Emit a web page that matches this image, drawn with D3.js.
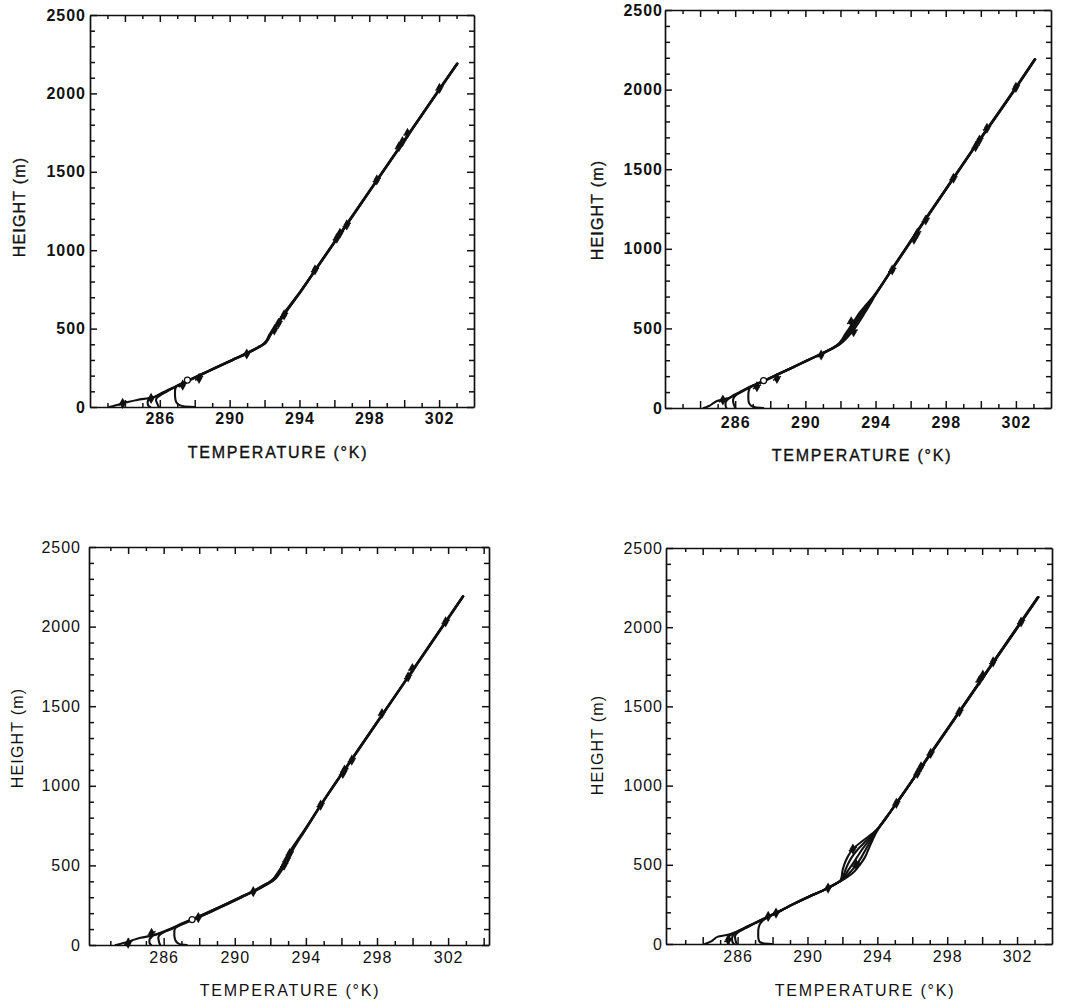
<!DOCTYPE html>
<html>
<head>
<meta charset="utf-8">
<script src="https://cdn.jsdelivr.net/npm/d3@7"></script>
<style>
body { margin: 0; background: #fff; }
text { font-family: "Liberation Sans", Arial, sans-serif; fill: #111; }
</style>
</head>
<body>
<svg id="chart" width="1068" height="1001"></svg>
<script>
// shared height levels (m) for every profile
const heights = [0, 5, 15, 30, 45, 60, 80, 100, 130, 170, 210, 250, 300, 340, 380, 400, 420, 460, 500, 550, 600, 650, 700, 900, 1200, 1600, 2000, 2190];
const xTickLabels = [286, 290, 294, 298, 302];
const yTickLabels = [0, 500, 1000, 1500, 2000, 2500];

// panel A (top left) temperature profiles, K
const panelATemps = [
  [283.1, 283.3, 283.6, 284.1, 284.7, 285.55, 285.95, 286.3, 286.88, 287.65, 288.42, 289.18, 290.15, 290.92, 291.63, 291.93, 292.1, 292.3, 292.55, 292.85, 293.15, 293.48, 293.82, 295.06, 296.92, 299.38, 301.85, 303.03],
  [288.0, 287.35, 287.08, 286.95, 286.9, 286.88, 286.87, 286.87, 286.93, 287.7, 288.47, 289.23, 290.2, 290.97, 291.68, 291.98, 292.15, 292.35, 292.6, 292.9, 293.2, 293.52, 293.85, 295.09, 296.95, 299.41, 301.88, 303.06],
  [285.45, 285.38, 285.32, 285.3, 285.35, 285.62, 286.02, 286.38, 286.9, 287.62, 288.4, 289.16, 290.13, 290.9, 291.6, 291.9, 292.08, 292.27, 292.52, 292.82, 293.12, 293.46, 293.8, 295.05, 296.9, 299.37, 301.84, 303.02],
  [285.95, 285.92, 285.88, 285.82, 285.78, 285.85, 286.1, 286.42, 286.95, 287.68, 288.45, 289.21, 290.18, 290.95, 291.66, 291.96, 292.13, 292.33, 292.58, 292.88, 293.18, 293.5, 293.84, 295.08, 296.93, 299.4, 301.87, 303.05]
];
const panelAMarkT = [302.02, 300.19, 299.9, 299.7, 298.43, 296.71, 296.32, 296.14, 294.89, 293.12, 292.8, 292.56, 290.98, 288.25, 287.31, 285.5, 283.87];
const panelAMarkZ = [2032, 1745, 1692, 1660, 1448, 1161, 1108, 1076, 874, 587, 534, 491, 338, 183, 140, 55, 23];
const panelAOpenT = [287.58];
const panelAOpenZ = [172];

// panel B (top right)
const panelBTemps = [
  [284.2, 284.35, 284.55, 284.75, 285.0, 285.55, 285.9, 286.25, 286.78, 287.6, 288.38, 289.15, 290.1, 290.88, 291.6, 291.85, 292.02, 292.25, 292.5, 292.8, 293.1, 293.48, 293.86, 295.08, 296.91, 299.38, 301.9, 303.06],
  [287.6, 287.15, 286.9, 286.8, 286.76, 286.75, 286.75, 286.76, 286.85, 287.65, 288.42, 289.2, 290.15, 290.92, 291.63, 291.9, 292.08, 292.35, 292.6, 292.9, 293.2, 293.55, 293.9, 295.1, 296.93, 299.4, 301.92, 303.08],
  [285.5, 285.48, 285.45, 285.45, 285.5, 285.65, 285.98, 286.3, 286.82, 287.62, 288.4, 289.17, 290.12, 290.9, 291.62, 291.92, 292.12, 292.42, 292.7, 293.0, 293.3, 293.62, 293.92, 295.12, 296.95, 299.42, 301.94, 303.1],
  [286.0, 285.98, 285.95, 285.9, 285.88, 285.9, 286.05, 286.35, 286.85, 287.66, 288.44, 289.21, 290.16, 290.94, 291.66, 291.96, 292.18, 292.52, 292.82, 293.12, 293.4, 293.68, 293.94, 295.13, 296.96, 299.43, 301.95, 303.11]
];
const panelBMarkT = [302.0, 300.35, 299.92, 299.7, 298.44, 296.86, 296.38, 296.19, 294.95, 292.61, 292.75, 290.9, 288.38, 287.24, 285.3];
const panelBMarkZ = [2014, 1757, 1683, 1641, 1443, 1181, 1097, 1060, 867, 542, 479, 333, 186, 134, 50];
const panelBOpenT = [287.62];
const panelBOpenZ = [172];

// panel C (bottom left)
const panelCTemps = [
  [283.3, 283.5, 283.85, 284.25, 284.7, 285.4, 285.95, 286.4, 286.95, 287.8, 288.6, 289.37, 290.32, 291.07, 291.72, 292.02, 292.22, 292.47, 292.72, 292.97, 293.17, 293.47, 293.78, 294.94, 296.77, 299.22, 301.66, 302.82],
  [287.3, 286.92, 286.76, 286.66, 286.62, 286.6, 286.6, 286.62, 287.02, 287.88, 288.67, 289.42, 290.37, 291.12, 291.77, 292.07, 292.27, 292.52, 292.77, 293.02, 293.22, 293.52, 293.82, 294.97, 296.8, 299.25, 301.69, 302.85],
  [285.3, 285.25, 285.2, 285.2, 285.25, 285.4, 285.9, 286.35, 286.92, 287.78, 288.58, 289.35, 290.3, 291.05, 291.7, 292.0, 292.2, 292.45, 292.7, 292.98, 293.22, 293.5, 293.8, 294.95, 296.78, 299.23, 301.67, 302.83],
  [285.8, 285.78, 285.75, 285.72, 285.7, 285.75, 286.0, 286.45, 287.05, 287.9, 288.7, 289.45, 290.4, 291.15, 291.8, 292.1, 292.32, 292.58, 292.85, 293.08, 293.28, 293.55, 293.84, 294.98, 296.81, 299.26, 301.7, 302.86]
];
const panelCMarkT = [301.86, 299.99, 299.75, 298.28, 296.58, 296.17, 296.08, 294.83, 293.09, 292.91, 292.78, 291.04, 287.95, 285.32, 284.0];
const panelCMarkZ = [2030, 1737, 1684, 1454, 1161, 1098, 1078, 879, 575, 534, 502, 335, 172, 73, 11];
const panelCOpenT = [287.6];
const panelCOpenZ = [160];

// panel D (bottom right)
const panelDTemps = [
  [284.13, 284.25, 284.45, 284.65, 284.85, 285.5, 286.0, 286.35, 286.92, 287.68, 288.43, 289.13, 290.08, 290.9, 291.58, 291.88, 291.95, 292.0, 292.1, 292.3, 292.6, 293.15, 293.75, 295.14, 297.01, 299.5, 302.0, 303.18],
  [287.95, 287.45, 287.25, 287.2, 287.18, 287.18, 287.18, 287.2, 287.3, 287.72, 288.47, 289.17, 290.12, 290.94, 291.62, 291.92, 292.02, 292.15, 292.3, 292.55, 292.9, 293.35, 293.8, 295.16, 297.03, 299.52, 302.02, 303.2],
  [285.5, 285.45, 285.4, 285.4, 285.45, 285.65, 286.0, 286.4, 286.95, 287.7, 288.45, 289.15, 290.1, 290.92, 291.6, 291.9, 292.08, 292.3, 292.55, 292.85, 293.15, 293.5, 293.85, 295.17, 297.04, 299.53, 302.03, 303.21],
  [285.95, 285.93, 285.9, 285.87, 285.85, 285.9, 286.1, 286.45, 286.98, 287.73, 288.48, 289.18, 290.13, 290.95, 291.63, 291.93, 292.15, 292.5, 292.8, 293.1, 293.35, 293.62, 293.88, 295.18, 297.05, 299.54, 302.04, 303.22],
  [285.8, 285.75, 285.7, 285.68, 285.7, 285.8, 286.05, 286.42, 286.97, 287.72, 288.47, 289.16, 290.11, 290.93, 291.62, 291.95, 292.25, 292.7, 293.0, 293.3, 293.5, 293.7, 293.92, 295.19, 297.06, 299.55, 302.05, 303.23]
];
const panelDMarkT = [302.23, 300.63, 300.04, 299.85, 298.7, 297.05, 296.5, 296.29, 295.09, 292.6, 292.8, 291.18, 288.2, 287.75, 285.47];
const panelDMarkZ = [2033, 1781, 1697, 1665, 1466, 1203, 1119, 1077, 888, 600, 500, 353, 195, 174, 27];
const panelDOpenT = [];
const panelDOpenZ = [];

const svg = d3.select("#chart");

const panels = [
  { temps: panelATemps, markT: panelAMarkT, markZ: panelAMarkZ, openT: panelAOpenT, openZ: panelAOpenZ,
    l: 90, t: 15, r: 474, b: 407, xDom: [282, 304], weight: "bold", heavy: true, xPad: 6, yPad: 4,
    titleX: 278, titleY: 458, ylabX: 19, ylabY: 207 },
  { temps: panelBTemps, markT: panelBMarkT, markZ: panelBMarkZ, openT: panelBOpenT, openZ: panelBOpenZ,
    l: 665, t: 10, r: 1051, b: 408, xDom: [282, 304], weight: "bold", heavy: true, xPad: 9, yPad: 2,
    titleX: 862, titleY: 461, ylabX: 597, ylabY: 210 },
  { temps: panelCTemps, markT: panelCMarkT, markZ: panelCMarkZ, openT: panelCOpenT, openZ: panelCOpenZ,
    l: 89, t: 547, r: 489, b: 945, xDom: [281.8, 304.3], weight: "normal", heavy: false, xPad: 7, yPad: 8,
    titleX: 290, titleY: 996, ylabX: 17, ylabY: 738 },
  { temps: panelDTemps, markT: panelDMarkT, markZ: panelDMarkZ, openT: panelDOpenT, openZ: panelDOpenZ,
    l: 666, t: 548, r: 1052, b: 944, xDom: [281.9, 304], weight: "normal", heavy: false, xPad: 7, yPad: 3,
    titleX: 865, titleY: 996, ylabX: 597, ylabY: 745 }
];

panels.forEach(drawPanel);

function drawPanel(p) {
  const x = d3.scaleLinear().domain(p.xDom).range([p.l, p.r]);
  const y = d3.scaleLinear().domain([0, 2500]).range([p.b, p.t]);
  const g = svg.append("g");

  const xTicks = d3.range(Math.ceil(p.xDom[0]), Math.floor(p.xDom[1]) + 1)
    .filter(v => v - p.xDom[0] > 0.3 && p.xDom[1] - v > 0.3);
  const yTicks = d3.range(0, 2501, 100);

  const bottom = g.append("g")
    .attr("transform", "translate(0," + p.b + ")")
    .call(d3.axisBottom(x).tickValues(xTicks).tickSizeInner(-5).tickSizeOuter(0)
      .tickPadding(p.xPad).tickFormat(d => xTickLabels.includes(d) ? d : ""));
  const top = g.append("g")
    .attr("transform", "translate(0," + p.t + ")")
    .call(d3.axisTop(x).tickValues(xTicks).tickSizeInner(-5).tickSizeOuter(0).tickFormat(""));
  const left = g.append("g")
    .attr("transform", "translate(" + p.l + ",0)")
    .call(d3.axisLeft(y).tickValues(yTicks).tickSizeInner(-5).tickSizeOuter(0)
      .tickPadding(p.yPad).tickFormat(d => yTickLabels.includes(d) ? d : ""));
  const right = g.append("g")
    .attr("transform", "translate(" + p.r + ",0)")
    .call(d3.axisRight(y).tickValues(yTicks).tickSizeInner(-5).tickSizeOuter(0).tickFormat(""));

  // longer ticks on even kelvins / every 500 m
  bottom.selectAll(".tick line").attr("y2", d => d % 2 === 0 ? -7 : -4);
  top.selectAll(".tick line").attr("y2", d => d % 2 === 0 ? 7 : 4);
  left.selectAll(".tick line").attr("x2", d => d % 500 === 0 ? 7 : 5);
  right.selectAll(".tick line").attr("x2", d => d % 500 === 0 ? -7 : -5);

  [bottom, top, left, right].forEach(a => {
    a.select(".domain").attr("stroke", "#111").attr("stroke-width", 1.7);
    a.selectAll(".tick line").attr("stroke", "#111").attr("stroke-width", 1.5);
    a.selectAll("text")
      .style("font-family", "'Liberation Sans', Arial, sans-serif")
      .style("font-size", "16px")
      .style("font-weight", p.weight)
      .style("letter-spacing", "1px")
      .attr("fill", "#111");
  });

  // profiles
  const line = d3.line()
    .x(d => x(d[0]))
    .y(d => y(d[1]))
    .curve(d3.curveMonotoneY);

  g.append("g").selectAll("path")
    .data(p.temps)
    .enter()
    .append("path")
    .attr("d", temps => line(temps.map((t, i) => [t, heights[i]])))
    .attr("fill", "none")
    .attr("stroke", "#111")
    .attr("stroke-width", 2.1)
    .attr("stroke-linejoin", "round")
    .attr("stroke-linecap", "round");

  // data markers
  const marks = p.markT.map((t, i) => [t, p.markZ[i]]);
  g.append("g").selectAll("path")
    .data(marks)
    .enter()
    .append("path")
    .attr("transform", d => "translate(" + x(d[0]) + "," + y(d[1]) + ")")
    .attr("d", d3.symbol().type(d3.symbolDiamond).size(36))
    .attr("fill", "#111");
  g.append("g").selectAll("line")
    .data(marks)
    .enter()
    .append("line")
    .attr("x1", d => x(d[0]) - 4)
    .attr("x2", d => x(d[0]) + 4)
    .attr("y1", d => y(d[1]) + 2)
    .attr("y2", d => y(d[1]) - 2)
    .attr("stroke", "#111")
    .attr("stroke-width", 1.6);

  const open = p.openT.map((t, i) => [t, p.openZ[i]]);
  g.append("g").selectAll("circle")
    .data(open)
    .enter()
    .append("circle")
    .attr("cx", d => x(d[0]))
    .attr("cy", d => y(d[1]))
    .attr("r", 3)
    .attr("fill", "#fff")
    .attr("stroke", "#111")
    .attr("stroke-width", 1.3);

  // axis titles
  g.append("text")
    .attr("x", p.titleX)
    .attr("y", p.titleY)
    .attr("text-anchor", "middle")
    .style("font-size", "16px")
    .style("letter-spacing", "1.8px")
    .attr("stroke", p.heavy ? "#111" : "none")
    .attr("stroke-width", 0.35)
    .text("TEMPERATURE (°K)");

  g.append("text")
    .attr("transform", "translate(" + p.ylabX + "," + p.ylabY + ") rotate(-90)")
    .attr("text-anchor", "middle")
    .attr("dominant-baseline", "central")
    .style("font-size", "16px")
    .style("letter-spacing", "1.2px")
    .attr("stroke", p.heavy ? "#111" : "none")
    .attr("stroke-width", 0.35)
    .text("HEIGHT (m)");
}
</script>
</body>
</html>
